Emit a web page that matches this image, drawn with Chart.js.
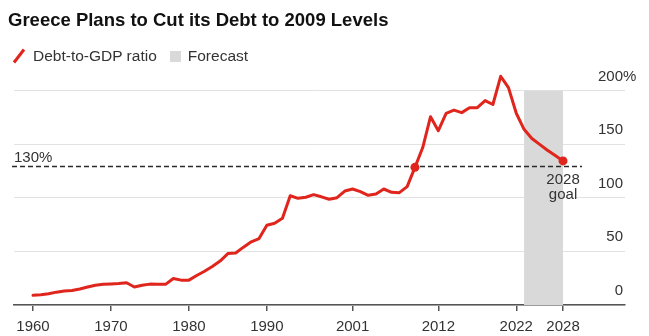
<!DOCTYPE html>
<html>
<head>
<meta charset="utf-8">
<script src="https://cdn.jsdelivr.net/npm/chart.js@4.4.1/dist/chart.umd.min.js"></script>
<style>
  html, body { margin: 0; padding: 0; background: #fff; }
  #wrap { position: relative; width: 649px; height: 336px; overflow: hidden;
          font-family: "Liberation Sans", Arial, sans-serif; }
  #chart { position: absolute; left: 0; top: 0; }
  #title { position: absolute; left: 8px; top: 9px; font-weight: bold; font-size: 18.5px;
           color: #111; white-space: nowrap; }
  #legend { position: absolute; left: 12px; top: 47px; font-size: 15.5px; color: #333;
            display: flex; align-items: center; white-space: nowrap; }
  #legend .sw { display: inline-block; width: 11px; height: 11px; background: #d9d9d9; margin-left: 13px; }
</style>
</head>
<body>
<div id="wrap">
  <canvas id="chart" width="649" height="336"></canvas>
  <div id="title">Greece Plans to Cut its Debt to 2009 Levels</div>
  <div id="legend">
    <svg width="14" height="16"><line x1="2" y1="14.5" x2="12" y2="1.5" stroke="#e0251d" stroke-width="3"/></svg>
    <span style="margin-left:7px">Debt-to-GDP ratio</span>
    <span class="sw"></span>
    <span style="margin-left:7px">Forecast</span>
  </div>
</div>
<script>
// Greek general government debt, % of GDP (2023 onward: forecast)
const years = [
  1960, 1961, 1962, 1963, 1964, 1965, 1966, 1967, 1968, 1969,
  1970, 1971, 1972, 1973, 1974, 1975, 1976, 1977, 1978, 1979,
  1980, 1981, 1982, 1983, 1984, 1985, 1986, 1987, 1988, 1989,
  1990, 1991, 1992, 1993, 1994, 1995, 1996, 1997, 1998, 1999,
  2000, 2001, 2002, 2003, 2004, 2005, 2006, 2007, 2008, 2009,
  2010, 2011, 2012, 2013, 2014, 2015, 2016, 2017, 2018, 2019,
  2020, 2021, 2022, 2023, 2024, 2025, 2026, 2027, 2028
];
const debtRatio = [
  9.0, 9.5, 10.5, 12.0, 13.0, 13.6, 15.0, 16.8, 18.5, 19.4,
  19.7, 20.0, 20.8, 16.8, 18.5, 19.5, 19.3, 19.3, 24.8, 23.2,
  23.2, 27.5, 31.5, 36.0, 41.0, 48.0, 48.5, 54.0, 59.0, 62.0,
  74.5, 76.3, 81.0, 102.0, 99.6, 100.6, 103.0, 101.0, 98.7, 100.2,
  106.4, 108.3, 105.8, 102.4, 103.6, 108.3, 105.2, 104.9, 110.5, 128.5,
  147.0, 175.8, 162.7, 179.0, 182.0, 179.6, 184.2, 184.2, 190.8, 187.2,
  213.5, 203.0, 179.0, 164.0, 155.5, 150.0, 144.5, 139.5, 134.5
];
const xTickYears = [1960, 1970, 1980, 1990, 2001, 2012, 2022, 2028];
const yTickValues = [0, 50, 100, 150, 200];
const forecastStart = 2023;
const forecastEnd = 2028;
const goalLevel = 130;
const markedYears = [2009, 2028];

const RED = '#e0251d';
const FONT = '"Liberation Sans", Arial, sans-serif';

const points = years.map((yr, i) => ({ x: yr, y: debtRatio[i] }));

// Forecast shading, 130% reference line and the right-hand value labels
const annotations = {
  id: 'annotations',
  beforeDatasetsDraw(chart) {
    const { ctx, chartArea, scales: { x, y } } = chart;
    const topVal = yTickValues[yTickValues.length - 1];
    ctx.save();

    const bx0 = x.getPixelForValue(forecastStart);
    const bx1 = x.getPixelForValue(forecastEnd);
    const by0 = y.getPixelForValue(topVal);
    const by1 = y.getPixelForValue(0);
    ctx.fillStyle = '#d9d9d9';
    ctx.fillRect(bx0, by0, bx1 - bx0, by1 - by0);

    const gy = Math.round(y.getPixelForValue(goalLevel)) + 0.5;
    ctx.strokeStyle = '#2a2a2a';
    ctx.lineWidth = 1.5;
    ctx.setLineDash([5, 3]);
    ctx.beginPath();
    ctx.moveTo(chartArea.left - 2, gy);
    ctx.lineTo(bx1 + 19, gy);
    ctx.stroke();
    ctx.setLineDash([]);

    ctx.font = '15px ' + FONT;
    ctx.fillStyle = '#333';
    ctx.textBaseline = 'alphabetic';
    ctx.textAlign = 'left';
    ctx.fillText(goalLevel + '%', chartArea.left, gy - 5);

    ctx.textAlign = 'center';
    ctx.fillText(String(forecastEnd), bx1, gy + 17);
    ctx.fillText('goal', bx1, gy + 32);

    yTickValues.forEach(v => {
      const py = y.getPixelForValue(v);
      ctx.textAlign = 'right';
      ctx.fillText(String(v), chartArea.right - 2, py - 10);
      if (v === topVal) {
        ctx.textAlign = 'left';
        ctx.fillText('%', chartArea.right - 2, py - 10);
      }
    });
    ctx.restore();
  }
};

new Chart(document.getElementById('chart'), {
  type: 'line',
  data: {
    datasets: [{
      label: 'Debt-to-GDP ratio',
      data: points,
      borderColor: RED,
      backgroundColor: RED,
      borderWidth: 3,
      borderJoinStyle: 'round',
      borderCapStyle: 'round',
      tension: 0,
      pointRadius: ctx => markedYears.includes(ctx.raw && ctx.raw.x) ? 4.5 : 0,
      pointHoverRadius: 0,
      pointBackgroundColor: RED,
      pointBorderWidth: 0,
      clip: false
    }]
  },
  options: {
    responsive: false,
    devicePixelRatio: 1,
    animation: false,
    events: [],
    layout: { padding: { left: 14, right: 24, top: 64, bottom: 0 } },
    plugins: { legend: { display: false }, tooltip: { enabled: false }, title: { display: false } },
    scales: {
      x: {
        type: 'linear',
        min: 1957.56,
        max: 2035.95,
        afterBuildTicks: s => { s.ticks = xTickYears.map(v => ({ value: v })); },
        afterFit: s => { s.height = 31; },
        ticks: {
          callback: v => String(v),
          color: '#333',
          font: { family: FONT, size: 15 },
          padding: 7,
          maxRotation: 0,
          autoSkip: false
        },
        grid: { drawOnChartArea: false, drawTicks: true, tickLength: 6, color: '#555', lineWidth: 1.5 },
        border: { display: true, color: '#555', width: 1.5 }
      },
      y: {
        type: 'linear',
        position: 'right',
        min: 0,
        max: 225,
        afterBuildTicks: s => { s.ticks = yTickValues.map(v => ({ value: v })); },
        afterFit: s => { s.width = 0; },
        ticks: { display: false },
        grid: { color: '#e2e2e2', lineWidth: 1, drawTicks: false },
        border: { display: false }
      }
    }
  },
  plugins: [annotations]
});
</script>
</body>
</html>
